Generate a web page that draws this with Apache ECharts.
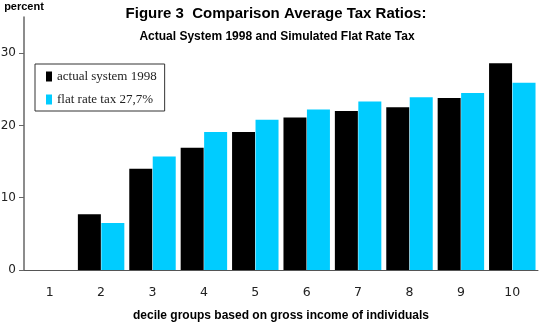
<!DOCTYPE html>
<html>
<head>
<meta charset="utf-8">
<script src="https://cdn.jsdelivr.net/npm/echarts@6/dist/echarts.min.js"></script>
<style>
  html, body { margin: 0; padding: 0; background: #fff; }
  #main { width: 540px; height: 324px; }
</style>
</head>
<body>
<div id="main"></div>
<script>
// data
var deciles = ['1', '2', '3', '4', '5', '6', '7', '8', '9', '10'];
var actual1998 = [0, 7.7, 14.0, 16.9, 19.1, 21.1, 22.0, 22.5, 23.8, 28.6];
var flatRate = [0, 6.5, 15.7, 19.1, 20.8, 22.2, 23.3, 23.9, 24.5, 25.9];
var yTicks = [0, 10, 20, 30];

var boldFont = "'Liberation Sans', Arial, sans-serif";

var myChart = echarts.init(document.getElementById('main'));
myChart.setOption({
  animation: false,
  title: [
    {
      text: 'Figure 3  Comparison Average Tax Ratios:',
      left: 276, top: 6, textAlign: 'center', padding: 0,
      textStyle: { fontFamily: boldFont, fontWeight: 'bold', fontSize: 15, color: '#000' }
    },
    {
      text: 'Actual System 1998 and Simulated Flat Rate Tax',
      left: 277, top: 31, textAlign: 'center', padding: 0,
      textStyle: { fontFamily: boldFont, fontWeight: 'bold', fontSize: 12, color: '#000' }
    }
  ],
  legend: {
    orient: 'vertical',
    left: 35, top: 64,
    padding: [6, 8, 5, 11],
    itemGap: 10,
    itemWidth: 6, itemHeight: 10,
    icon: 'rect',
    borderColor: '#333', borderWidth: 1,
    textStyle: { fontFamily: "'Liberation Serif', serif", fontSize: 13, color: '#222' },
    data: ['actual system 1998', 'flat rate tax 27,7%']
  },
  grid: { left: 24, right: 2, top: 17, bottom: 54, containLabel: false, outerBoundsMode: 'none' },
  xAxis: {
    type: 'category',
    data: deciles,
    name: 'decile groups based on gross income of individuals',
    nameLocation: 'middle',
    nameGap: 40,
    nameTextStyle: { fontFamily: boldFont, fontWeight: 'bold', fontSize: 12, color: '#000' },
    axisLine: { lineStyle: { color: '#555', width: 1 } },
    axisTick: { show: false },
    axisLabel: { margin: 16, fontFamily: 'DejaVu Sans', fontSize: 12.5, color: '#222' }
  },
  yAxis: {
    type: 'value',
    min: 0, max: 35, interval: 10,
    name: 'percent',
    nameLocation: 'end',
    nameGap: 5,
    nameTextStyle: { fontFamily: boldFont, fontWeight: 'bold', fontSize: 11, color: '#000', align: 'center' },
    axisLine: { show: true, lineStyle: { color: '#666', width: 1.5 } },
    axisTick: { show: true, length: 5, customValues: yTicks, lineStyle: { color: '#666' } },
    axisLabel: { margin: 8, customValues: yTicks, fontFamily: 'DejaVu Sans', fontSize: 12, color: '#222' },
    splitLine: { show: false }
  },
  series: [
    {
      name: 'actual system 1998',
      type: 'bar',
      data: actual1998,
      barWidth: 23,
      barGap: '2%',
      itemStyle: { color: '#000' }
    },
    {
      name: 'flat rate tax 27,7%',
      type: 'bar',
      data: flatRate,
      barWidth: 23,
      barGap: '2%',
      itemStyle: { color: '#00ccff' }
    }
  ]
});
</script>
</body>
</html>
